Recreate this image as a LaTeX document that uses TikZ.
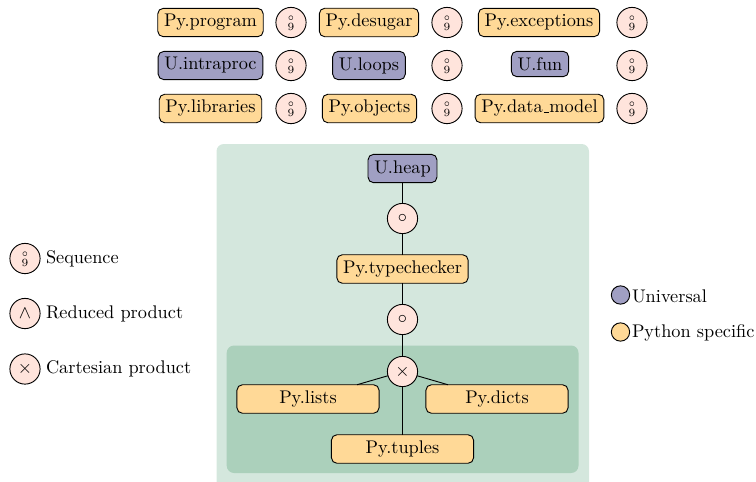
\documentclass[tikz,border=0pt]{standalone}
\usepackage{amssymb}
\usetikzlibrary{backgrounds}
\definecolor{pyc}{HTML}{FFD997}
\definecolor{uc}{HTML}{A09FC3}
\definecolor{opc}{HTML}{FFE4DC}
\definecolor{outerc}{HTML}{D4E7DD}
\definecolor{innerc}{HTML}{ABD0BB}
\tikzset{
 x=0.546pt,y=-0.546pt,
 every node/.style={inner sep=0pt,outer sep=0pt},
 pybox/.style={draw=black,fill=pyc,rounded corners=3pt,inner xsep=3.4pt,inner ysep=3.3pt,line width=0.5pt},
 ubox/.style={pybox,fill=uc},
 wide/.style={minimum width=77.6pt},
 opnode/.style={draw=black,fill=opc,circle,minimum size=16.5pt,line width=0.5pt},
 conn/.style={line width=0.5pt},
 lab/.style={anchor=west},
 legdot/.style={draw=black,circle,minimum size=10pt,line width=0.5pt},
 panel/.style={rounded corners=4pt}
}
\newcommand{\semi}{\smash{\makebox[0pt]{\raisebox{1.35pt}{$\scriptscriptstyle\circ$}}\makebox[0pt]{\raisebox{-4.4pt}{\fontsize{6}{6}\selectfont 9}}}}
\newcommand{\lowbar}{\leavevmode\kern.06em\vbox{\hrule width.3em}}
\begin{document}
\begin{tikzpicture}
\useasboundingbox (0,0) rectangle (756,481);
\clip (0,0) rectangle (756,481);
\fill[outerc,panel] (216.5,144) rectangle (589,495);
\fill[innerc,panel] (226.7,345.5) rectangle (578.5,473);

\node[pybox] (prog) at (210.5,22.5) {Py.program};
\node[opnode] (o1) at (291,22.5) {\semi};
\node[pybox] (desugar) at (369,22.5) {Py.desugar};
\node[opnode] (o2) at (447,22.5) {\semi};
\node[pybox] (exc) at (539,22.5) {Py.exceptions};
\node[opnode] (o3) at (632,22.5) {\semi};

\node[ubox] (intra) at (210.5,65.5) {U.intraproc};
\node[opnode] (o4) at (291,65.5) {\semi};
\node[ubox] (loops) at (369,65.5) {U.loops};
\node[opnode] (o5) at (447,65.5) {\semi};
\node[ubox] (fun) at (540,64) {U.fun};
\node[opnode] (o6) at (632,65.5) {\semi};

\node[pybox] (libs) at (210.5,108.5) {Py.libraries};
\node[opnode] (o7) at (291,108.5) {\semi};
\node[pybox] (objs) at (369.5,108.5) {Py.objects};
\node[opnode] (o8) at (447,108.5) {\semi};
\node[pybox] (dm) at (539.5,108.5) {Py.data\lowbar model};
\node[opnode] (o9) at (632,108.5) {\semi};

\node[ubox] (heap) at (402.5,168.5) {U.heap};
\node[opnode] (c1) at (402.5,218.5) {$\circ$};
\node[pybox] (tc) at (402.5,269) {Py.typechecker};
\node[opnode] (c2) at (402.5,319.5) {$\circ$};
\node[opnode] (x) at (402.5,371.5) {$\times$};
\node[pybox,wide] (lists) at (308,399) {Py.lists};
\node[pybox,wide] (dicts) at (497,399) {Py.dicts};
\node[pybox,wide] (tuples) at (402.5,449) {Py.tuples};
\draw[conn] (heap) -- (c1);
\draw[conn] (c1) -- (tc);
\draw[conn] (tc) -- (c2);
\draw[conn] (c2) -- (x);
\draw[conn] (x) -- (lists);
\draw[conn] (x) -- (dicts);
\draw[conn] (x) -- (tuples);

\node[opnode] (l1) at (25,258.5) {\semi};
\node[lab] (l1t) at (46,258.5) {Sequence};
\node[opnode] (l2) at (25,313.5) {$\wedge$};
\node[lab] (l2t) at (46,313.5) {Reduced product};
\node[opnode] (l3) at (25,369) {$\times$};
\node[lab] (l3t) at (46,369) {Cartesian product};

\node[legdot,fill=uc] (u) at (620.5,295) {};
\node[lab] (ut) at (632,296) {Universal};
\node[legdot,fill=pyc] (p) at (620.5,332) {};
\node[lab] (pt) at (632,333) {Python specific};
\end{tikzpicture}
\end{document}
